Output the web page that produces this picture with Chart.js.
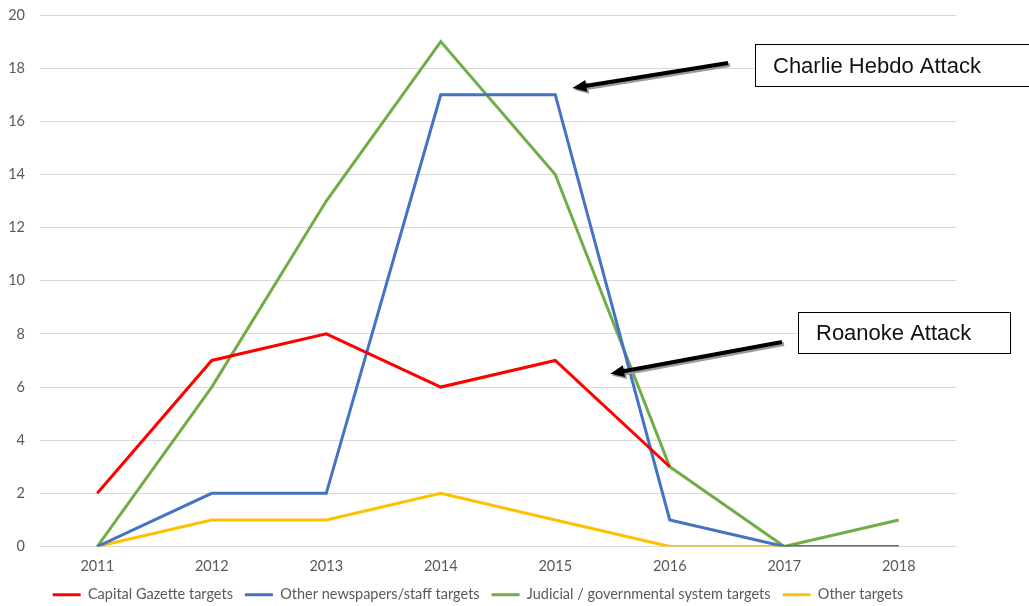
<!DOCTYPE html>
<html>
<head>
<meta charset="utf-8">
<script src="https://cdn.jsdelivr.net/npm/chart.js@4/dist/chart.umd.min.js"></script>
<style>
  html, body { margin: 0; padding: 0; background: #fff; }
  #wrap { width: 1029px; height: 606px; }
</style>
</head>
<body>
<div id="wrap"><canvas id="attacks"></canvas></div>
<script>
const years = ['2011', '2012', '2013', '2014', '2015', '2016', '2017', '2018']
const capitalGazette = [2, 7, 8, 6, 7, 3, null, null]
const otherNewspapers = [0, 2, 2, 17, 17, 1, 0, 0]
const judicial = [0, 6, 13, 19, 14, 3, 0, 1]
const otherTargets = [0, 1, 1, 2, 1, 0, 0, 0]
const yTicks = [0, 2, 4, 6, 8, 10, 12, 14, 16, 18, 20]

// callouts: box text, arrow start, arrow tip (value coords)
const callouts = [
  { text: 'Charlie Hebdo Attack', box: [755, 44, 276, 43], from: [728, 63], tipX: 4.15, tipY: 17.25 },
  { text: 'Roanoke Attack', box: [798, 312, 213, 42], from: [782, 342], tipX: 4.48, tipY: 6.5 }
]

const calloutPlugin = {
  id: 'callouts',
  afterDraw(chart) {
    const ctx = chart.ctx
    const xs = chart.scales.x, ys = chart.scales.y
    callouts.forEach(c => {
      const tx = xs.getPixelForValue(c.tipX)
      const ty = ys.getPixelForValue(c.tipY)
      const [fx, fy] = c.from
      const ang = Math.atan2(ty - fy, tx - fx)
      const drawArrow = (dx, dy, color) => {
        ctx.save()
        ctx.strokeStyle = color
        ctx.fillStyle = color
        ctx.lineWidth = 4
        ctx.beginPath()
        ctx.moveTo(fx + dx, fy + dy)
        ctx.lineTo(tx + dx - 8 * Math.cos(ang), ty + dy - 8 * Math.sin(ang))
        ctx.stroke()
        ctx.beginPath()
        ctx.moveTo(tx + dx, ty + dy)
        ctx.lineTo(tx + dx - 14 * Math.cos(ang) + 6 * Math.sin(ang), ty + dy - 14 * Math.sin(ang) - 6 * Math.cos(ang))
        ctx.lineTo(tx + dx - 14 * Math.cos(ang) - 6 * Math.sin(ang), ty + dy - 14 * Math.sin(ang) + 6 * Math.cos(ang))
        ctx.closePath()
        ctx.fill()
        ctx.restore()
      }
      drawArrow(2, 2, '#9a9a9a')
      drawArrow(0, 0, '#000')

      const [bx, by, bw, bh] = c.box
      ctx.save()
      ctx.fillStyle = '#fff'
      ctx.fillRect(bx, by, bw, bh)
      ctx.strokeStyle = '#000'
      ctx.lineWidth = 1
      ctx.strokeRect(bx + 0.5, by + 0.5, bw - 1, bh - 1)
      ctx.fillStyle = '#111'
      ctx.font = '22px "Liberation Sans", Arial, sans-serif'
      ctx.textBaseline = 'middle'
      ctx.fillText(c.text, bx + 18, by + bh / 2 + 1)
      ctx.restore()
    })
  }
}

const mkSet = (label, data, color) => ({
  label: label,
  data: data,
  borderColor: color,
  backgroundColor: color,
  borderWidth: 3,
  pointRadius: 0,
  pointHoverRadius: 0,
  tension: 0,
  fill: false
})

const tickFont = { family: 'Lato, "Open Sans", sans-serif', size: 14.5 }

new Chart(
  document.getElementById('attacks'),
  {
    type: 'line',
    plugins: [calloutPlugin],
    data: {
      labels: years,
      datasets: [
        mkSet('Capital Gazette targets', capitalGazette, '#ff0000'),
        mkSet('Other newspapers/staff targets', otherNewspapers, '#4472c4'),
        mkSet('Judicial / governmental system targets', judicial, '#70ad47'),
        mkSet('Other targets', otherTargets, '#ffc000')
      ]
    },
    options: {
      responsive: true,
      maintainAspectRatio: false,
      animation: false,
      layout: { padding: { left: 0, right: 73, top: 15, bottom: -6 } },
      plugins: {
        legend: {
          display: true,
          position: 'bottom',
          labels: {
            usePointStyle: true,
            pointStyle: 'line',
            pointStyleWidth: 28,
            padding: 12,
            color: '#595959',
            font: tickFont
          }
        },
        tooltip: { enabled: false }
      },
      scales: {
        x: {
          offset: true,
          grid: { display: false, drawTicks: false },
          border: { display: false },
          afterFit: axis => { axis.height = 29 },
          ticks: {
            padding: 11,
            color: '#595959',
            font: tickFont
          }
        },
        y: {
          min: 0,
          max: 20,
          afterBuildTicks: axis => { axis.ticks = yTicks.map(v => ({ value: v })) },
          afterFit: axis => { axis.width = 40; axis.paddingTop = 0 },
          grid: { color: '#d9d9d9', lineWidth: 1, drawTicks: false },
          border: { display: false },
          ticks: {
            padding: 15,
            color: '#595959',
            font: tickFont
          }
        }
      }
    }
  }
);
</script>
</body>
</html>
